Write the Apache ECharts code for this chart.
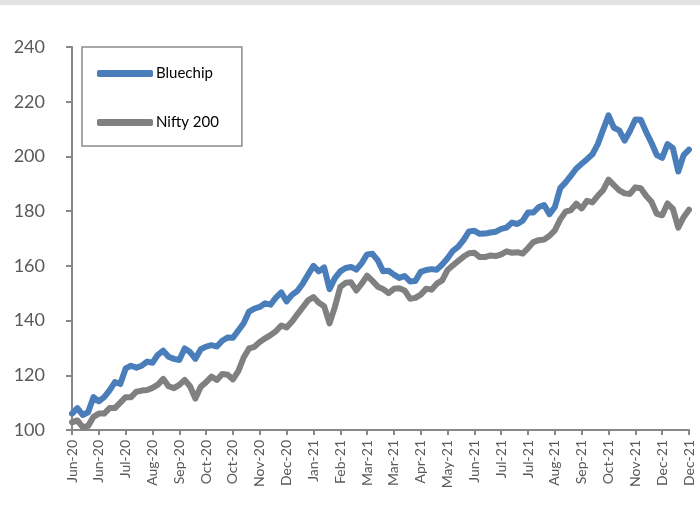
<!DOCTYPE html>
<html>
<head>
<meta charset="utf-8">
<script src="https://cdn.jsdelivr.net/npm/echarts@6/dist/echarts.min.js"></script>
<style>
html,body{margin:0;padding:0;background:#fff;}
#main{width:700px;height:506px;}
</style>
</head>
<body>
<div id="main"></div>
<script>
// tick labels, one every 5 points
var tickLabels = ['Jun-20','Jun-20','Jul-20','Aug-20','Sep-20','Oct-20','Oct-20','Nov-20','Dec-20','Jan-21','Feb-21','Mar-21',
	'Mar-21','Apr-21','May-21','Jun-21','Jul-21','Jul-21','Aug-21','Sep-21','Oct-21','Nov-21','Dec-21','Dec-21'];
var step = 5;

var bluechip = [
	106,108,105.5,106.5,112, 110.5,112,114.5,117.5,116.8,
	122.5,123.5,122.8,123.5,125, 124.6,127.5,129,126.8,126,
	125.6,129.8,128.5,126,129.5, 130.5,131,130.5,132.6,133.8,
	133.7,136.4,139,143.3,144.4, 145,146.3,145.8,148.4,150.3,
	147,149.4,150.8,153.5,156.8, 160,158,159.4,151.5,155.5,
	158,159.2,159.6,158.6,161, 164.2,164.4,162,158,158.2,
	156.8,155.6,156.3,154.3,154.5, 157.8,158.5,158.8,158.6,160.5,
	162.8,165.5,167,169.5,172.6, 172.8,171.7,171.8,172.2,172.5,
	173.5,174,175.8,175.3,176.5, 179.5,179.5,181.5,182.2,178.9,
	181.5,188.4,190.5,193,195.6, 197.3,199,200.8,204.5,209.8,
	215,210.5,209.5,205.8,209.3, 213.5,213.4,209,205,200.5,
	199.5,204.5,203,194.5,200.5, 202.5
];
var nifty200 = [
	102.8,103.5,101,101.5,104.8, 106,106,108,108,110,
	112,112,114,114.4,114.6, 115.4,116.6,118.7,116,115.3,
	116.5,118.3,116,111.5,115.8, 117.5,119.5,118.3,120.5,120.2,
	118.5,121.5,126.5,129.8,130.4, 132.2,133.5,134.7,136.1,138.2,
	137.5,139.6,142.3,144.8,147.4, 148.6,146.5,145.2,139,145,
	152.3,153.8,154,151,153.5, 156.4,154.5,152.4,151.5,150,
	151.6,151.8,151,148,148.3, 149.5,151.6,151.3,153.5,154.7,
	158.5,160.2,161.8,163.4,164.6, 164.8,163.2,163.2,163.8,163.6,
	164.2,165.3,164.8,165,164.5, 166.5,168.7,169.4,169.6,171,
	173,177,179.8,180.4,182.7, 181,183.8,183.2,185.6,187.7,
	191.5,189.5,187.6,186.5,186.3, 188.7,188.4,185.6,183.4,179,
	178.5,182.8,180.8,174,177.8, 180.5
];

var categories = [];
for (var i = 0; i < bluechip.length; i++) {
	categories.push(i % step == 0 ? tickLabels[i / step] : tickLabels[Math.floor(i / step)] + ' ' + i);
}

var myChart = echarts.init(document.getElementById('main'));
var option = {
	backgroundColor: '#fff',
	animation: false,
	graphic: [{
		type: 'rect',
		shape: {x: 0, y: 0, width: 700, height: 5},
		style: {fill: '#e2e2e2'}
	}],
	grid: {left: 72, right: 11, top: 47, bottom: 76},
	legend: {
		orient: 'vertical',
		left: 82,
		top: 47,
		padding: [19, 23, 16, 15],
		itemWidth: 56,
		itemHeight: 7,
		itemGap: 34,
		icon: 'roundRect',
		borderColor: '#8a8a8a',
		borderWidth: 1.5,
		textStyle: {fontFamily: 'Lato', fontSize: 15, color: '#000', padding: [0, 0, 0, -2]},
		data: ['Bluechip', 'Nifty 200']
	},
	xAxis: {
		type: 'category',
		boundaryGap: false,
		data: categories,
		axisLine: {lineStyle: {color: '#888', width: 2}},
		axisTick: {show: true, interval: step - 1, length: 5, lineStyle: {color: '#888', width: 2}},
		axisLabel: {
			interval: step - 1,
			rotate: 90,
			margin: 10,
			fontFamily: 'Lato',
			fontSize: 14,
			color: '#595959',
			formatter: function (v) { return v.split(' ')[0]; }
		},
		splitLine: {show: false}
	},
	yAxis: {
		type: 'value',
		min: 100,
		max: 240,
		interval: 20,
		axisLine: {show: true, lineStyle: {color: '#888', width: 2}},
		axisTick: {show: true, length: 6, lineStyle: {color: '#888', width: 2}},
		axisLabel: {fontFamily: 'Lato', fontSize: 18, color: '#595959', margin: 27},
		splitLine: {show: false}
	},
	series: [
		{
			name: 'Bluechip',
			type: 'line',
			data: bluechip,
			showSymbol: false,
			symbol: 'none',
			smooth: false,
			lineStyle: {color: '#4a7ebb', width: 6, cap: 'round', join: 'round'},
			itemStyle: {color: '#4a7ebb'}
		},
		{
			name: 'Nifty 200',
			type: 'line',
			data: nifty200,
			showSymbol: false,
			symbol: 'none',
			smooth: false,
			lineStyle: {color: '#808080', width: 6, cap: 'round', join: 'round'},
			itemStyle: {color: '#808080'}
		}
	]
};
myChart.setOption(option);
</script>
</body>
</html>
